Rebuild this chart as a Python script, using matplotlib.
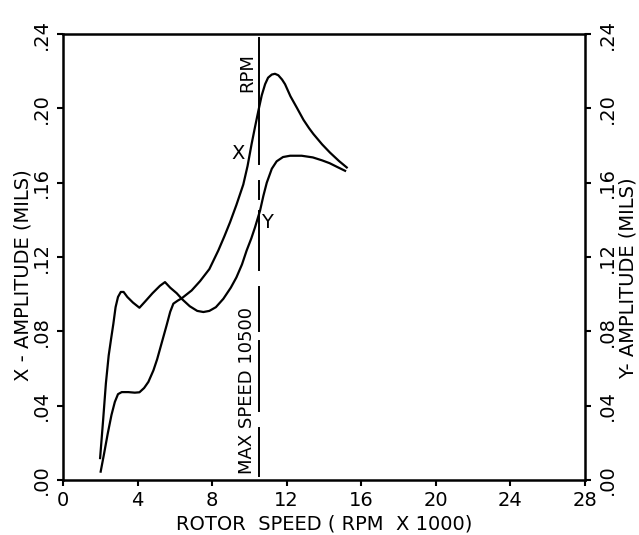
import matplotlib.pyplot as plt

plt.rcParams['font.family'] = ['DejaVu Sans']

# rotor speed in thousands of rpm, amplitudes in mils
x_speed = [2.02, 2.20, 2.40, 2.60, 2.78, 2.95, 3.15, 3.50, 3.85, 4.10, 4.35,
           4.58, 4.85, 5.05, 5.30, 5.55, 5.75, 5.92, 6.15, 6.37, 6.90, 7.35,
           7.85, 8.33, 8.65, 8.96, 9.30, 9.67, 9.90, 10.12, 10.30, 10.48,
           10.66, 10.84, 11.00, 11.20, 11.37, 11.55, 11.75, 11.91, 12.20,
           12.54, 12.90, 13.20, 13.43, 13.90, 14.32, 14.80, 15.22]
x_amp = [0.0045, 0.014, 0.025, 0.035, 0.042, 0.0462, 0.0473, 0.0473, 0.0470,
         0.0472, 0.0495, 0.0528, 0.059, 0.065, 0.074, 0.083, 0.0905, 0.0949,
         0.0965, 0.0978, 0.102, 0.107, 0.1135, 0.1235, 0.131, 0.1387, 0.148,
         0.159, 0.169, 0.181, 0.190, 0.1987, 0.207, 0.213, 0.2165, 0.2182,
         0.2186, 0.2178, 0.2155, 0.213, 0.2065, 0.2004, 0.1938, 0.1893,
         0.1862, 0.1806, 0.1762, 0.1717, 0.1682]

y_speed = [1.99, 2.15, 2.30, 2.45, 2.58, 2.70, 2.82, 2.95, 3.10, 3.25, 3.45,
           3.75, 4.10, 4.40, 4.80, 5.20, 5.47, 5.75, 6.10, 6.40, 6.80, 7.20,
           7.53, 7.85, 8.20, 8.60, 9.00, 9.30, 9.60, 9.85, 10.10, 10.30,
           10.57, 10.75, 10.93, 11.20, 11.46, 11.80, 12.18, 12.80, 13.40,
           13.90, 14.30, 14.70, 15.13]
y_amp = [0.0118, 0.032, 0.052, 0.067, 0.076, 0.084, 0.093, 0.0985, 0.1012,
         0.1012, 0.0985, 0.0955, 0.0927, 0.096, 0.1005, 0.1045, 0.1065,
         0.1035, 0.1005, 0.0972, 0.0935, 0.0910, 0.0904, 0.0910, 0.0930,
         0.0975, 0.1035, 0.109, 0.116, 0.1235, 0.130, 0.136, 0.145, 0.153,
         0.160, 0.1675, 0.1715, 0.1738, 0.1745, 0.1745, 0.1736, 0.172,
         0.1705, 0.1685, 0.1664]

max_speed = 10.5
# pieces of the max-speed marker line (gaps where curves and text sit)
marker_pieces = [(0.170, 0.238), (0.151, 0.161), (0.113, 0.145),
                 (0.080, 0.104), (0.037, 0.075), (0.002, 0.028)]

x_ticks = [0, 4, 8, 12, 16, 20, 24, 28]
amp_ticks = [0.00, 0.04, 0.08, 0.12, 0.16, 0.20, 0.24]
amp_labels = ['.00', '.04', '.08', '.12', '.16', '.20', '.24']

fig = plt.figure(figsize=(6.39, 5.35), dpi=100)
ax = fig.add_axes([0.0986, 0.1028, 0.8169, 0.8336])

ax.plot(x_speed, x_amp, color='black', lw=1.6)
ax.plot(y_speed, y_amp, color='black', lw=1.6)

for lo, hi in marker_pieces:
    ax.plot([max_speed, max_speed], [lo, hi], color='black', lw=1.4)

ax.annotate('MAX SPEED 10500', (max_speed, 0.003), xytext=(-2, 0),
            textcoords='offset points', rotation=90, ha='right', va='bottom',
            fontsize=13)
ax.annotate('RPM', (max_speed, 0.2086), xytext=(-2, 0),
            textcoords='offset points', rotation=90, ha='right', va='bottom',
            fontsize=13)

ax.text(9.39, 0.1756, 'X', fontsize=14, ha='center', va='center')
ax.text(10.95, 0.1385, 'Y', fontsize=14, ha='center', va='center')

ax.set_xlim(0, 28)
ax.set_ylim(0, 0.24)
ax.set_xticks(x_ticks)
ax.set_xticklabels([str(t) for t in x_ticks], fontsize=14)
ax.set_yticks(amp_ticks)
ax.set_yticklabels(amp_labels, fontsize=14, rotation=90, va='center')
ax.tick_params(axis='both', direction='out', length=4, width=1.5, pad=4)
ax.tick_params(axis='y', right=True, labelright=True, pad=5)
ax.yaxis.set_tick_params(labelrotation=90)

for side in ['left', 'right', 'top', 'bottom']:
    ax.spines[side].set_linewidth(1.8)

ax.set_xlabel('ROTOR  SPEED ( RPM  X 1000)', fontsize=14, labelpad=3)
fig.text(0.036, 0.486, 'X - AMPLITUDE (MILS)', rotation=90, fontsize=14,
         ha='center', va='center')
fig.text(0.983, 0.48, 'Y- AMPLITUDE (MILS)', rotation=90, fontsize=14,
         ha='center', va='center')

fig.savefig('out.png', dpi=100)
